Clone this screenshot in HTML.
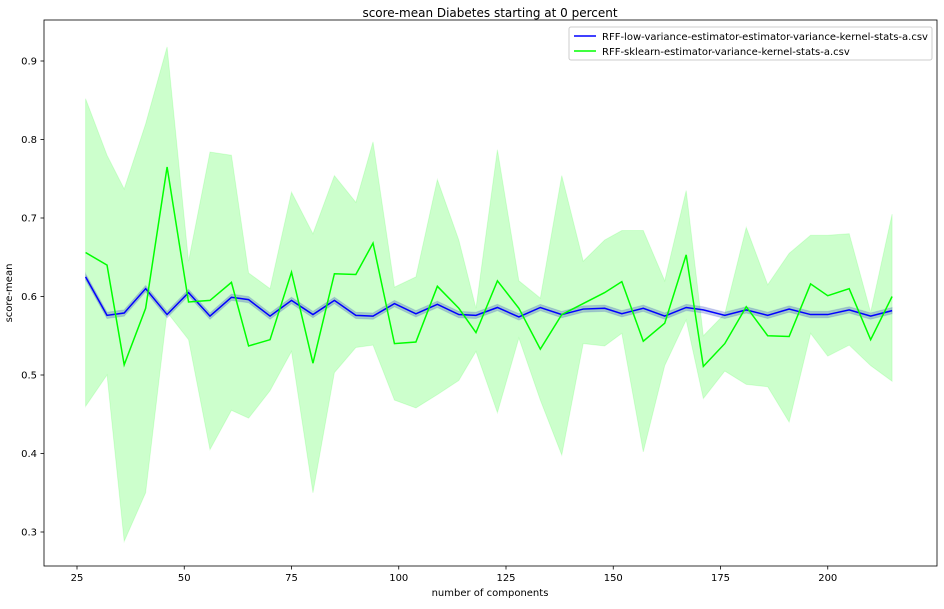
<!DOCTYPE html>
<html><head><meta charset="utf-8"><style>
body{margin:0;background:#fff;font-family:"Liberation Sans","DejaVu Sans",sans-serif}
svg text{font-family:"DejaVu Sans","Liberation Sans",sans-serif}
</style></head><body>
<svg id="chart" width="944" height="604" xmlns="http://www.w3.org/2000/svg">
<rect width="944" height="604" fill="#fff"/>
<text x="490" y="17" font-size="12" text-anchor="middle">score-mean Diabetes starting at 0 percent</text>
<text x="490" y="596" font-size="10" text-anchor="middle">number of components</text>
<text transform="translate(12,293) rotate(-90)" font-size="10" text-anchor="middle">score-mean</text>
<g id="plot"></g>
<rect x="44" y="20" width="893" height="546" fill="none" stroke="#000" stroke-width="0.8"/>
<g>
<rect x="569" y="27" width="363" height="33" rx="2" fill="#fff" stroke="#ccc" fill-opacity="0.85"/>
<line x1="574" y1="36" x2="596" y2="36" stroke="#0000ff" stroke-width="1.5"/>
<text x="602" y="40" font-size="10">RFF-low-variance-estimator-estimator-variance-kernel-stats-a.csv</text>
<line x1="574" y1="51" x2="596" y2="51" stroke="#00ff00" stroke-width="1.5"/>
<text x="602" y="55" font-size="10">RFF-sklearn-estimator-variance-kernel-stats-a.csv</text>
</g>
</svg>
<script>
const xs=[27,32,36,41,46,51,56,61,65,70,75,80,85,90,94,99,104,109,114,118,123,128,133,138,143,148,152,157,162,167,171,176,181,186,191,196,200,205,210,215];
const blueMean=[0.625,0.576,0.579,0.61,0.577,0.605,0.575,0.599,0.596,0.575,0.595,0.577,0.595,0.576,0.575,0.591,0.578,0.590,0.577,0.576,0.586,0.574,0.586,0.577,0.584,0.585,0.578,0.585,0.575,0.586,0.583,0.576,0.583,0.576,0.584,0.577,0.577,0.583,0.575,0.582];
const greenMean=[0.656,0.640,0.513,0.585,0.765,0.593,0.595,0.618,0.537,0.545,0.631,0.515,0.629,0.628,0.668,0.540,0.542,0.613,0.585,0.554,0.620,0.585,0.533,0.577,0.591,0.605,0.619,0.543,0.566,0.653,0.511,0.540,0.587,0.550,0.549,0.616,0.601,0.610,0.545,0.600];
const greenUpper=[0.852,0.780,0.737,0.820,0.918,0.645,0.784,0.780,0.630,0.610,0.733,0.680,0.754,0.720,0.797,0.612,0.625,0.749,0.672,0.585,0.787,0.620,0.598,0.754,0.645,0.672,0.684,0.684,0.620,0.735,0.550,0.578,0.688,0.615,0.655,0.678,0.678,0.680,0.580,0.705];
const greenLower=[0.460,0.500,0.288,0.350,0.580,0.545,0.405,0.455,0.445,0.480,0.530,0.350,0.503,0.535,0.538,0.468,0.458,0.475,0.493,0.530,0.452,0.547,0.468,0.398,0.540,0.537,0.553,0.402,0.512,0.570,0.470,0.505,0.488,0.485,0.440,0.553,0.524,0.538,0.512,0.492];
const blueBand=0.004;
const xTicks=[25,50,75,100,125,150,175,200];
const yTicks=[0.3,0.4,0.5,0.6,0.7,0.8,0.9];
const X=v=>77+(v-25)*4.29;
const Y=v=>61+(0.9-v)*785;
const NS="http://www.w3.org/2000/svg";
const g=document.getElementById('plot');
function mk(t,a){const e=document.createElementNS(NS,t);for(const k in a)e.setAttribute(k,a[k]);g.appendChild(e);return e;}
function band(up,lo,fill,op,name){
  let d='M'+xs.map((x,i)=>X(x)+','+Y(up[i])).join('L')+'L'+xs.map((x,i)=>X(x)+','+Y(lo[i])).reverse().join('L')+'Z';
  const e=mk('path',{d:d,fill:fill,'fill-opacity':op,stroke:fill,'stroke-opacity':op*0.6});
  
  
}
function line(vals,color,name){
  const e=mk('polyline',{points:xs.map((x,i)=>X(x)+','+Y(vals[i])).join(' '),fill:'none',stroke:color,'stroke-width':1.5});
  
  
}
band(greenUpper,greenLower,'#00ff00',0.2,'green-std-band');
band(blueMean.map(v=>v+blueBand),blueMean.map(v=>v-blueBand),'#3a50c0',0.3,'blue-std-band');
line(blueMean,'#0000ff','blue-mean-line');
line(greenMean,'#00ff00','green-mean-line');
xTicks.forEach(t=>{
  const l=mk('line',{x1:X(t),x2:X(t),y1:566,y2:569.5,stroke:'#000','stroke-width':0.8});
  
  
  const tx=mk('text',{x:X(t),y:581,'font-size':10,'text-anchor':'middle'});tx.textContent=t;
  
  
});
yTicks.forEach(t=>{
  const l=mk('line',{x1:40.5,x2:44,y1:Y(t),y2:Y(t),stroke:'#000','stroke-width':0.8});
  
  
  const tx=mk('text',{x:37,y:Y(t)+3.5,'font-size':10,'text-anchor':'end'});tx.textContent=t.toFixed(1);
  
  
});
</script>
</body></html>
